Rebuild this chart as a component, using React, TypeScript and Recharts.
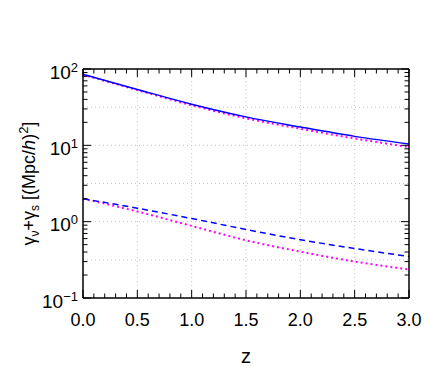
import { LineChart, Line, XAxis, YAxis, ReferenceLine } from 'recharts';

const zValues = [0, 0.5, 1, 1.5, 2, 2.5, 3];
const gammaSolid = [85, 54, 34.6, 23.6, 17.4, 13.1, 10.4];
const gammaDottedTop = [84, 53, 33.5, 22.6, 16.5, 12.3, 9.5];
const gammaDashed = [2.0, 1.5, 1.1, 0.79, 0.58, 0.445, 0.35];
const gammaDottedBottom = [2.0, 1.36, 0.88, 0.57, 0.405, 0.3, 0.237];

const xMajorTicks = [0, 0.5, 1, 1.5, 2, 2.5, 3];
const xTicks = Array.from({ length: 31 }, (_, i) => +(i * 0.1).toFixed(1));
const yMajorTicks = [0.1, 1, 10, 100];
const yTicks = [0.1, 1, 10].flatMap((d) => [1, 2, 3, 4, 5, 6, 7, 8, 9].map((m) => +(d * m).toPrecision(3))).concat([100]);

const xGrid = [0.5, 1, 1.5, 2, 2.5];
const yGrid = [0.3162, 1, 3.162, 10, 31.62];

const data = zValues.map((z, i) => ({
  z,
  solid: gammaSolid[i],
  dottedTop: gammaDottedTop[i],
  dashed: gammaDashed[i],
  dottedBottom: gammaDottedBottom[i],
}));

const FONT = '"Liberation Sans", Arial, Helvetica, sans-serif';

const isMajorX = (v: number) => xMajorTicks.some((t) => Math.abs(t - v) < 1e-6);
const isMajorY = (v: number) => yMajorTicks.some((t) => Math.abs(t - v) < 1e-9);

function XTickBottom({ x, y, payload }: any) {
  const major = isMajorX(payload.value);
  return (
    <g>
      <line x1={x} x2={x} y1={y} y2={y - (major ? 8 : 4.5)} stroke="#000" strokeWidth={1} />
      {major && (
        <text x={x} y={y + 28} textAnchor="middle" fontSize={18} fontFamily={FONT} fill="#000">
          {payload.value.toFixed(1)}
        </text>
      )}
    </g>
  );
}

function XTickTop({ x, y, payload }: any) {
  const major = isMajorX(payload.value);
  return <line x1={x} x2={x} y1={y} y2={y + (major ? 8 : 4.5)} stroke="#000" strokeWidth={1} />;
}

function YTickLeft({ x, y, payload }: any) {
  const v = payload.value;
  const major = isMajorY(v);
  const exp = Math.round(Math.log10(v));
  return (
    <g>
      <line x1={x} x2={x + (major ? 8 : 4.5)} y1={y} y2={y} stroke="#000" strokeWidth={1} />
      {major && (
        <text x={x - 5} y={y + 9.5} textAnchor="end" fontSize={19} fontFamily={FONT} fill="#000">
          10
          <tspan dy={-7} fontSize={13}>
            {exp < 0 ? '\u2212' + -exp : exp}
          </tspan>
        </text>
      )}
    </g>
  );
}

function YTickRight({ x, y, payload }: any) {
  const major = isMajorY(payload.value);
  return <line x1={x} x2={x - (major ? 8 : 4.5)} y1={y} y2={y} stroke="#000" strokeWidth={1} />;
}

const frame = { stroke: '#000', strokeWidth: 1.5 };

export default function App() {
  return (
    <div style={{ position: 'absolute', left: 0, top: 0, background: '#fff' }}>
      <LineChart width={424} height={369} data={data} margin={{ top: 68, right: 14, left: 0, bottom: 0 }}>
        {xGrid.map((v) => (
          <ReferenceLine key={'gx' + v} x={v} stroke="#c4c4c4" strokeDasharray="1 3" />
        ))}
        {yGrid.map((v) => (
          <ReferenceLine key={'gy' + v} y={v} stroke="#c4c4c4" strokeDasharray="1 3" />
        ))}
        <XAxis
          dataKey="z"
          type="number"
          domain={[0, 3]}
          ticks={xTicks}
          interval={0}
          height={71}
          tickSize={0}
          tickMargin={0}
          tickLine={false}
          axisLine={frame}
          tick={<XTickBottom />}
          label={{
            content: (p: any) => (
              <text
                x={p.viewBox.x + p.viewBox.width / 2}
                y={p.viewBox.y + 65}
                textAnchor="middle"
                fontSize={20}
                fontFamily={FONT}
                fill="#000"
              >
                z
              </text>
            ),
          }}
        />
        <XAxis
          xAxisId="top"
          orientation="top"
          dataKey="z"
          type="number"
          domain={[0, 3]}
          ticks={xTicks}
          interval={0}
          height={1}
          tickSize={0}
          tickMargin={0}
          tickLine={false}
          axisLine={frame}
          tick={<XTickTop />}
        />
        <YAxis
          type="number"
          scale="log"
          domain={[0.1, 100]}
          allowDataOverflow
          ticks={yTicks}
          interval={0}
          width={83}
          tickSize={0}
          tickMargin={0}
          tickLine={false}
          axisLine={frame}
          tick={<YTickLeft />}
          label={{
            content: () => {
              const cx = 35;
              const cy = 183.5;
              return (
                <text
                  x={cx}
                  y={cy}
                  transform={`rotate(-90 ${cx} ${cy})`}
                  textAnchor="middle"
                  fontSize={18}
                  fontFamily={FONT}
                  fill="#000"
                >
                  γ
                  <tspan dy={4} fontSize={12}>ν</tspan>
                  <tspan dy={-4}>+γ</tspan>
                  <tspan dy={4} fontSize={12}>s</tspan>
                  <tspan dy={-4}> [(Mpc/</tspan>
                  <tspan fontStyle="italic">h</tspan>
                  <tspan>)</tspan>
                  <tspan dy={-7} fontSize={13}>2</tspan>
                  <tspan dy={7}>]</tspan>
                </text>
              );
            },
          }}
        />
        <YAxis
          yAxisId="right"
          orientation="right"
          type="number"
          scale="log"
          domain={[0.1, 100]}
          allowDataOverflow
          ticks={yTicks}
          interval={0}
          width={1}
          tickSize={0}
          tickMargin={0}
          tickLine={false}
          axisLine={frame}
          tick={<YTickRight />}
        />
        <Line dataKey="dottedTop" type="monotone" stroke="#ff00ff" strokeWidth={2} strokeDasharray="2 3" dot={false} isAnimationActive={false} />
        <Line dataKey="solid" type="monotone" stroke="#0000ff" strokeWidth={1.5} dot={false} isAnimationActive={false} />
        <Line dataKey="dottedBottom" type="monotone" stroke="#ff00ff" strokeWidth={2} strokeDasharray="2 3" dot={false} isAnimationActive={false} />
        <Line dataKey="dashed" type="monotone" stroke="#0000ff" strokeWidth={1.5} strokeDasharray="6 4" dot={false} isAnimationActive={false} />
      </LineChart>
    </div>
  );
}
